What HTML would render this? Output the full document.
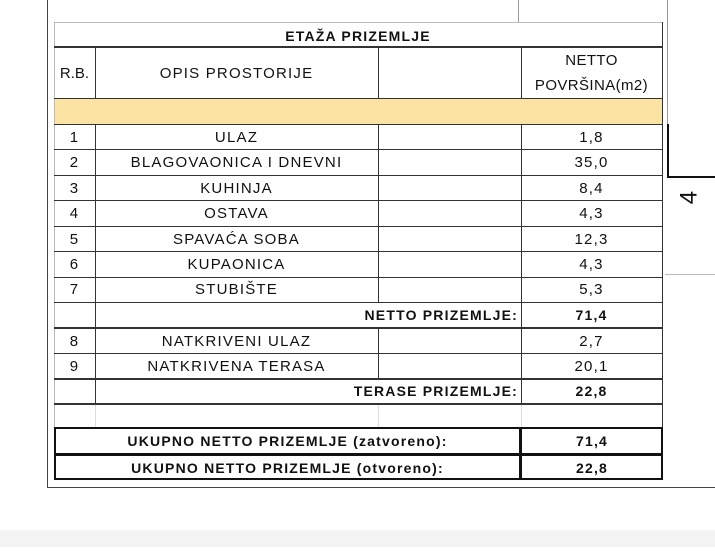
<!DOCTYPE html>
<html><head><meta charset="utf-8"><style>
body{margin:0;width:715px;height:560px;background:#fff;position:relative;overflow:hidden;font-family:"Liberation Sans",sans-serif;font-size:15px;letter-spacing:1.2px;color:#111}
.a{position:absolute}
.h{position:absolute;height:1px;background:#333}
.v{position:absolute;width:1px;background:#333}
.t{position:absolute;text-align:center;line-height:25px;height:25px;white-space:nowrap}
.b{font-weight:bold;font-size:14px;letter-spacing:1.2px}
</style></head><body>
<div class="v" style="left:47px;top:0;height:488px;background:#444"></div>
<div class="h" style="left:47px;top:487px;width:668px;background:#444"></div>
<div class="v" style="left:518px;top:0;height:22px;background:#999"></div>
<div class="v" style="left:667px;top:0;height:124px;background:#999"></div>
<div class="a" style="left:667px;top:124px;width:2px;height:54px;background:#111"></div>
<div class="a" style="left:667px;top:176px;width:48px;height:2px;background:#111"></div>
<div class="h" style="left:665px;top:274px;width:50px;background:#bbb"></div>
<div class="a" style="left:682px;top:183px;font-size:24px;transform:rotate(-90deg);">4</div>
<div class="a" style="left:0;top:530px;width:715px;height:17px;background:#f3f3f3"></div>

<div class="h" style="left:54px;top:22px;width:609px;background:#bbb"></div>
<div class="v" style="left:54px;top:22px;height:406px;background:#bbb"></div>
<div class="v" style="left:662px;top:22px;height:406px"></div>
<div class="t b" style="left:54px;top:24px;width:608px;line-height:24px">ETAŽA PRIZEMLJE</div>
<div class="h" style="left:54px;top:46px;width:609px;height:2px"></div>
<div class="a" style="left:55px;top:98px;width:607px;height:26px;background:#fbe3a4"></div>
<div class="h" style="left:54px;top:98px;width:609px"></div>
<div class="h" style="left:54px;top:124px;width:609px"></div>
<div class="t" style="left:54px;top:61px;width:41px;letter-spacing:0">R.B.</div>
<div class="t" style="left:95px;top:61px;width:283px">OPIS PROSTORIJE</div>
<div class="t" style="left:521px;top:48px;width:141px;line-height:25px;height:50px;white-space:normal;letter-spacing:0.4px">NETTO<br>POVRŠINA(m2)</div>
<div class="v" style="left:95px;top:47px;height:51px"></div>
<div class="v" style="left:378px;top:47px;height:51px"></div>
<div class="v" style="left:521px;top:47px;height:51px"></div>

<div class="v" style="left:95px;top:124px;height:280px"></div>
<div class="v" style="left:378px;top:124px;height:178px"></div>
<div class="v" style="left:378px;top:328px;height:51px"></div>
<div class="v" style="left:521px;top:124px;height:280px"></div>
<div class="v" style="left:95px;top:404px;height:24px;background:#ddd"></div>
<div class="v" style="left:378px;top:404px;height:24px;background:#ddd"></div>
<div class="v" style="left:521px;top:404px;height:24px;background:#ddd"></div>

<div class="h" style="left:54px;top:149px;width:609px"></div>
<div class="h" style="left:54px;top:175px;width:609px"></div>
<div class="h" style="left:54px;top:200px;width:609px"></div>
<div class="h" style="left:54px;top:226px;width:609px"></div>
<div class="h" style="left:54px;top:251px;width:609px"></div>
<div class="h" style="left:54px;top:277px;width:609px"></div>
<div class="h" style="left:54px;top:302px;width:609px"></div>
<div class="h" style="left:54px;top:327px;width:609px;height:2px"></div>
<div class="h" style="left:54px;top:353px;width:609px"></div>
<div class="h" style="left:54px;top:378px;width:609px;height:2px"></div>
<div class="h" style="left:54px;top:403px;width:609px;height:2px"></div>

<div class="t" style="left:54px;top:125px;width:41px">1</div><div class="t" style="left:95px;top:125px;width:283px">ULAZ</div><div class="t" style="left:521px;top:125px;width:141px">1,8</div>
<div class="t" style="left:54px;top:150px;width:41px">2</div><div class="t" style="left:95px;top:150px;width:283px">BLAGOVAONICA I DNEVNI</div><div class="t" style="left:521px;top:150px;width:141px">35,0</div>
<div class="t" style="left:54px;top:176px;width:41px">3</div><div class="t" style="left:95px;top:176px;width:283px">KUHINJA</div><div class="t" style="left:521px;top:176px;width:141px">8,4</div>
<div class="t" style="left:54px;top:201px;width:41px">4</div><div class="t" style="left:95px;top:201px;width:283px">OSTAVA</div><div class="t" style="left:521px;top:201px;width:141px">4,3</div>
<div class="t" style="left:54px;top:227px;width:41px">5</div><div class="t" style="left:95px;top:227px;width:283px">SPAVAĆA SOBA</div><div class="t" style="left:521px;top:227px;width:141px">12,3</div>
<div class="t" style="left:54px;top:252px;width:41px">6</div><div class="t" style="left:95px;top:252px;width:283px">KUPAONICA</div><div class="t" style="left:521px;top:252px;width:141px">4,3</div>
<div class="t" style="left:54px;top:277px;width:41px">7</div><div class="t" style="left:95px;top:277px;width:283px">STUBIŠTE</div><div class="t" style="left:521px;top:277px;width:141px">5,3</div>
<div class="t b" style="left:95px;top:303px;width:423px;text-align:right">NETTO PRIZEMLJE:</div><div class="t b" style="left:521px;top:303px;width:141px">71,4</div>
<div class="t" style="left:54px;top:329px;width:41px">8</div><div class="t" style="left:95px;top:329px;width:283px">NATKRIVENI ULAZ</div><div class="t" style="left:521px;top:329px;width:141px">2,7</div>
<div class="t" style="left:54px;top:354px;width:41px">9</div><div class="t" style="left:95px;top:354px;width:283px">NATKRIVENA TERASA</div><div class="t" style="left:521px;top:354px;width:141px">20,1</div>
<div class="t b" style="left:95px;top:379px;width:423px;text-align:right">TERASE PRIZEMLJE:</div><div class="t b" style="left:521px;top:379px;width:141px">22,8</div>

<div class="a" style="left:54px;top:427px;width:605px;height:49px;border:2px solid #111"></div>
<div class="h" style="left:54px;top:453px;width:609px;height:3px;background:#111"></div>
<div class="a" style="left:519px;top:427px;width:3px;height:53px;background:#111"></div>
<div class="t b" style="left:56px;top:429px;width:463px">UKUPNO NETTO PRIZEMLJE (zatvoreno):</div>
<div class="t b" style="left:522px;top:429px;width:140px">71,4</div>
<div class="t b" style="left:56px;top:456px;width:463px">UKUPNO NETTO PRIZEMLJE (otvoreno):</div>
<div class="t b" style="left:522px;top:456px;width:140px">22,8</div>
</body></html>
